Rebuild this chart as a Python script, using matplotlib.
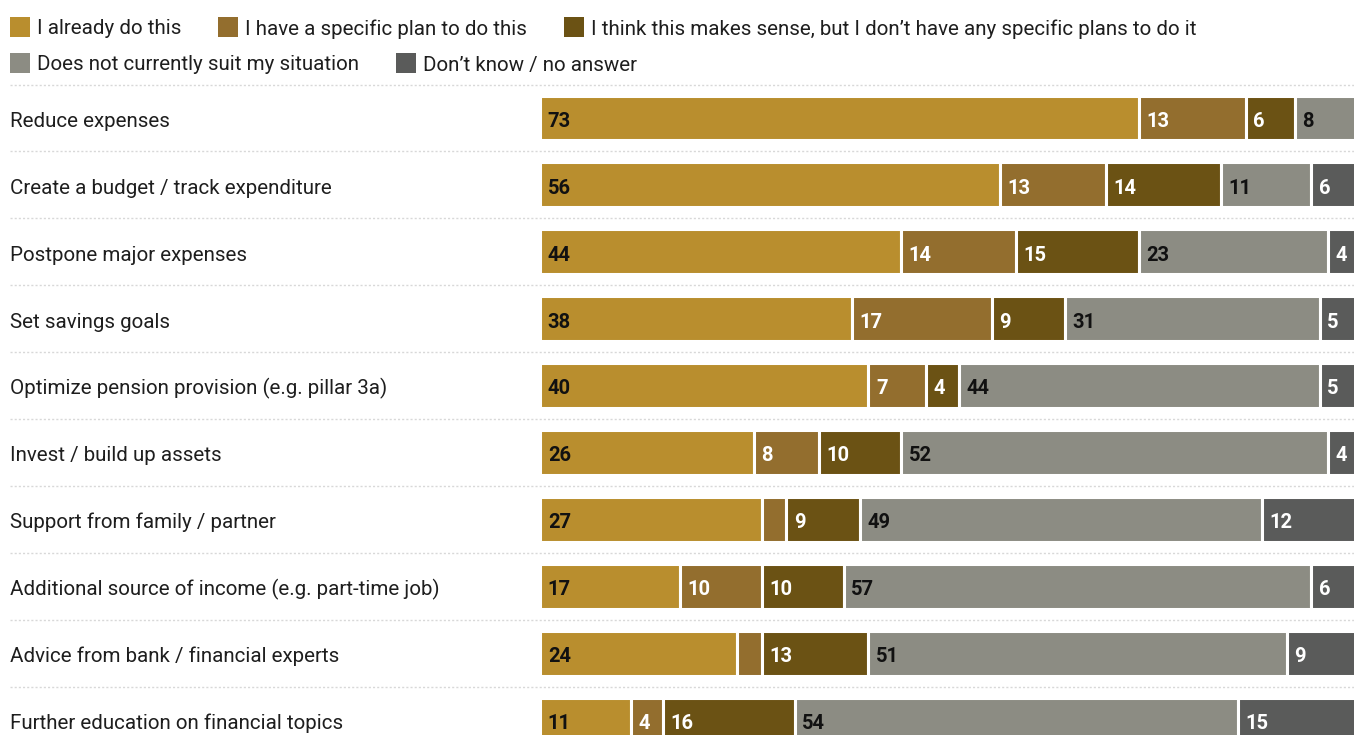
import numpy as np
import matplotlib.pyplot as plt
from matplotlib.patches import Rectangle

plt.rcParams['font.family'] = ['Roboto', 'DejaVu Sans']

categories = [
    "Reduce expenses",
    "Create a budget / track expenditure",
    "Postpone major expenses",
    "Set savings goals",
    "Optimize pension provision (e.g. pillar 3a)",
    "Invest / build up assets",
    "Support from family / partner",
    "Additional source of income (e.g. part-time job)",
    "Advice from bank / financial experts",
    "Further education on financial topics",
]
series = [
    "I already do this",
    "I have a specific plan to do this",
    "I think this makes sense, but I don\u2019t have any specific plans to do it",
    "Does not currently suit my situation",
    "Don\u2019t know / no answer",
]
already = [73, 56, 44, 38, 40, 26, 27, 17, 24, 11]
plan = [13, 13, 14, 17, 7, 8, 3, 10, 3, 4]
makes_sense = [6, 14, 15, 9, 4, 10, 9, 10, 13, 16]
not_suit = [8, 11, 23, 31, 44, 52, 49, 57, 51, 54]
dont_know = [0, 6, 4, 5, 5, 4, 12, 6, 9, 15]

colors = ["#b98e2e", "#936e2e", "#6b5214", "#8c8c83", "#5a5b5a"]
text_colors = ["#111111", "white", "white", "#111111", "white"]

data = np.array([already, plan, makes_sense, not_suit, dont_know])

fig = plt.figure(figsize=(13.54, 7.35), dpi=100)
ax = fig.add_axes([0, 0, 1, 1])
ax.set_xlim(-65.9, 99.2)
ax.set_ylim(9.223, -1.764)
ax.axis('off')

y = np.arange(len(categories))
left = np.zeros(len(categories))
for k in range(len(series)):
    vals = data[k]
    ax.barh(y, vals, left=left, height=0.67, color=colors[k],
            edgecolor='white', linewidth=2.2)
    for i, v in enumerate(vals):
        if v >= 4:
            ax.text(left[i] + 0.9, i + 0.05, str(v), va='center', ha='left',
                    fontsize=14.5, fontweight='bold', color=text_colors[k])
    left += vals

# row labels and dotted separators
for i, name in enumerate(categories):
    ax.text(-64.7, i + 0.05, name, va='center', ha='left', fontsize=14.8,
            color='#1e1e1e')
ax.hlines(y - 0.5, -64.7, 100, colors='#d8d8d8', linewidth=1,
          linestyles=(0, (1.5, 1.5)))

# legend laid out as flowing rows
renderer = fig.canvas.get_renderer()
W, H = fig.get_size_inches() * fig.dpi
rows = [[0, 1, 2], [3, 4]]
row_y = [27, 63]
for r, items in enumerate(rows):
    x = 10
    yc = 1 - row_y[r] / H
    for k in items:
        fig.patches.append(Rectangle((x / W, yc - 10 / H), 20 / W, 20 / H,
                                     transform=fig.transFigure,
                                     facecolor=colors[k], edgecolor='none'))
        t = fig.text((x + 27) / W, yc - 2 / H, series[k], va='center',
                     ha='left', fontsize=14.8, color='#1e1e1e')
        bb = t.get_window_extent(renderer)
        x = bb.x1 + 37

fig.savefig('out.png', dpi=100)
